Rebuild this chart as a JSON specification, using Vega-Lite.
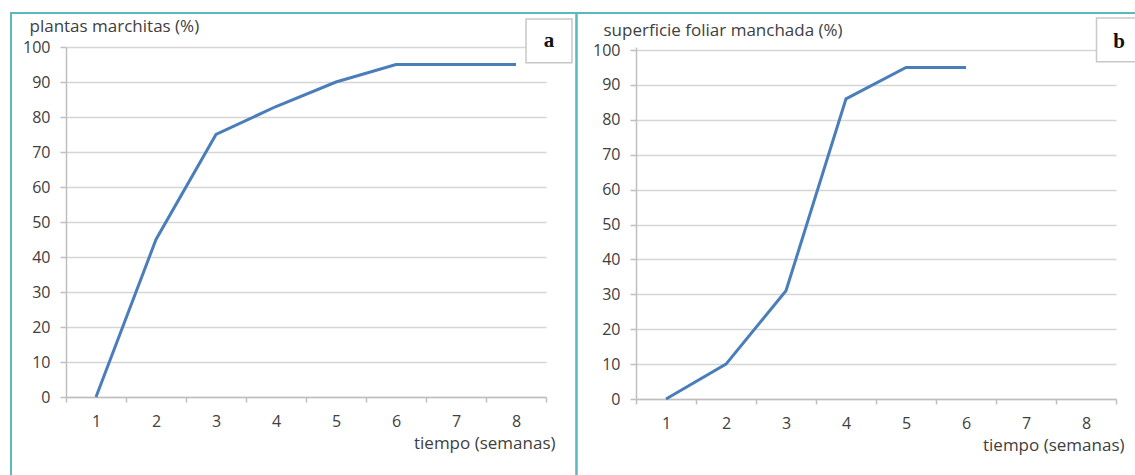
{
  "$schema": "https://vega.github.io/schema/vega-lite/v6.json",
  "background": "white",
  "padding": {"left": 9, "top": 12, "right": 0, "bottom": 0},
  "bounds": "flush",
  "spacing": 90,
  "config": {
    "font": "Open Sans",
    "view": {"stroke": null},
    "axis": {
      "labelFont": "Open Sans",
      "labelFontSize": 16,
      "labelColor": "#404040",
      "titleFont": "Open Sans",
      "titleFontSize": 17,
      "titleFontWeight": "normal",
      "titleColor": "#404040",
      "domainColor": "#bfbfbf",
      "domainWidth": 1.5,
      "tickColor": "#bfbfbf",
      "tickWidth": 1.5,
      "gridColor": "#d6d6d6",
      "gridWidth": 1.5
    }
  },
  "datasets": {
    "plantas": [
      {"semana": 1, "pct": 0},
      {"semana": 2, "pct": 45},
      {"semana": 3, "pct": 75},
      {"semana": 4, "pct": 83},
      {"semana": 5, "pct": 90},
      {"semana": 6, "pct": 95},
      {"semana": 7, "pct": 95},
      {"semana": 8, "pct": 95}
    ],
    "superficie": [
      {"semana": 1, "pct": 0},
      {"semana": 2, "pct": 10},
      {"semana": 3, "pct": 31},
      {"semana": 4, "pct": 86},
      {"semana": 5, "pct": 95},
      {"semana": 6, "pct": 95}
    ],
    "etiqueta_a": [{"letra": "a"}],
    "etiqueta_b": [{"letra": "b"}]
  },
  "hconcat": [
    {
      "width": 480,
      "height": 350,
      "resolve": {"scale": {"x": "independent", "y": "independent"}},
      "layer": [
        {
          "data": {"name": "plantas"},
          "mark": {"type": "line", "color": "#4a7ebb", "strokeWidth": 3},
          "encoding": {
            "x": {
              "field": "semana",
              "type": "ordinal",
              "scale": {"type": "band", "domain": [1, 2, 3, 4, 5, 6, 7, 8], "paddingInner": 0, "paddingOuter": 0},
              "axis": {
                "title": "tiempo (semanas)",
                "labelAngle": 0,
                "tickBand": "extent",
                "tickSize": 5,
                "labelPadding": 11,
                "grid": false,
                "titleX": 489,
                "titleY": 46,
                "titleAlign": "right",
                "titleBaseline": "middle"
              }
            },
            "y": {
              "field": "pct",
              "type": "quantitative",
              "scale": {"domain": [0, 100], "nice": false},
              "axis": {
                "values": [0, 10, 20, 30, 40, 50, 60, 70, 80, 90, 100],
                "grid": true,
                "labelOverlap": false,
                "title": "plantas marchitas (%)",
                "titleAngle": 0,
                "titleAlign": "left",
                "titleBaseline": "middle",
                "titleX": -37,
                "titleY": -21,
                "tickSize": 6,
                "labelPadding": 10
              }
            }
          }
        },
        {
          "data": {"name": "etiqueta_a"},
          "resolve": {"scale": {"x": "shared", "y": "shared"}},
          "layer": [
            {
              "mark": {"type": "rect", "fill": "transparent", "stroke": "#5ab9bd", "strokeWidth": 2},
              "encoding": {
                "x": {"datum": -0.417, "type": "quantitative", "scale": {"domain": [0.5, 8.5], "nice": false, "zero": false}, "axis": null},
                "x2": {"datum": 9.008},
                "y": {"datum": 109.7, "type": "quantitative", "scale": {"domain": [0, 100], "nice": false, "zero": false}, "axis": null},
                "y2": {"datum": -23.7}
              }
            },
            {
              "mark": {"type": "rect", "fill": "white", "stroke": "#c8c8c8", "strokeWidth": 1.5},
              "encoding": {
                "x": {"datum": 8.167, "type": "quantitative", "axis": null},
                "x2": {"datum": 8.933},
                "y": {"datum": 108, "type": "quantitative", "axis": null},
                "y2": {"datum": 95.5}
              }
            },
            {
              "mark": {"type": "text", "font": "Liberation Serif", "fontWeight": "bold", "fontSize": 21, "color": "#111111", "align": "center", "baseline": "middle"},
              "encoding": {
                "x": {"datum": 8.55, "type": "quantitative", "axis": null},
                "y": {"datum": 101.7, "type": "quantitative", "axis": null},
                "text": {"field": "letra"}
              }
            }
          ]
        }
      ]
    },
    {
      "width": 480,
      "height": 352,
      "resolve": {"scale": {"x": "independent", "y": "independent"}},
      "layer": [
        {
          "data": {"name": "superficie"},
          "mark": {"type": "line", "color": "#4a7ebb", "strokeWidth": 3},
          "encoding": {
            "x": {
              "field": "semana",
              "type": "ordinal",
              "scale": {"type": "band", "domain": [1, 2, 3, 4, 5, 6, 7, 8], "paddingInner": 0, "paddingOuter": 0},
              "axis": {
                "title": "tiempo (semanas)",
                "labelAngle": 0,
                "tickBand": "extent",
                "tickSize": 5,
                "labelPadding": 11,
                "grid": false,
                "titleX": 488,
                "titleY": 46,
                "titleAlign": "right",
                "titleBaseline": "middle"
              }
            },
            "y": {
              "field": "pct",
              "type": "quantitative",
              "scale": {"domain": [0, 100.86], "nice": false},
              "axis": {
                "values": [0, 10, 20, 30, 40, 50, 60, 70, 80, 90, 100],
                "grid": true,
                "labelOverlap": false,
                "title": "superficie foliar manchada (%)",
                "titleAngle": 0,
                "titleAlign": "left",
                "titleBaseline": "middle",
                "titleX": -33,
                "titleY": -17,
                "tickSize": 6,
                "labelPadding": 10
              }
            }
          }
        },
        {
          "data": {"name": "etiqueta_b"},
          "resolve": {"scale": {"x": "shared", "y": "shared"}},
          "layer": [
            {
              "mark": {"type": "rect", "fill": "transparent", "stroke": "#5ab9bd", "strokeWidth": 2},
              "encoding": {
                "x": {"datum": -0.492, "type": "quantitative", "scale": {"domain": [0.5, 8.5], "nice": false, "zero": false}, "axis": null},
                "x2": {"datum": 8.95},
                "y": {"datum": 110.6, "type": "quantitative", "scale": {"domain": [0, 100.86], "nice": false, "zero": false}, "axis": null},
                "y2": {"datum": -23}
              }
            },
            {
              "mark": {"type": "rect", "fill": "white", "stroke": "#c8c8c8", "strokeWidth": 1.5},
              "encoding": {
                "x": {"datum": 8.175, "type": "quantitative", "axis": null},
                "x2": {"datum": 8.95},
                "y": {"datum": 109.2, "type": "quantitative", "axis": null},
                "y2": {"datum": 96.6}
              }
            },
            {
              "mark": {"type": "text", "font": "Liberation Serif", "fontWeight": "bold", "fontSize": 21, "color": "#111111", "align": "center", "baseline": "middle"},
              "encoding": {
                "x": {"datum": 8.55, "type": "quantitative", "axis": null},
                "y": {"datum": 102.3, "type": "quantitative", "axis": null},
                "text": {"field": "letra"}
              }
            }
          ]
        }
      ]
    }
  ]
}
